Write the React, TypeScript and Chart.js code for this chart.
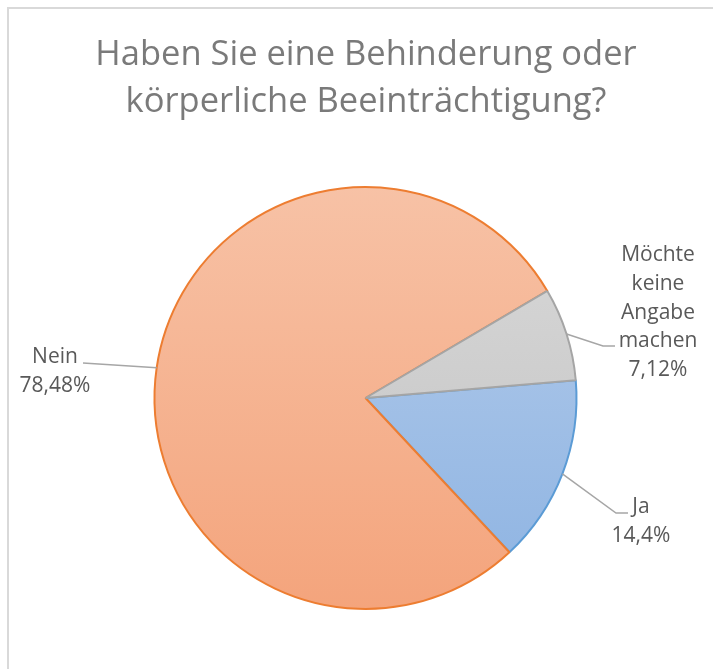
import React, { useEffect, useRef } from "react";
import { Chart, registerables } from "chart.js";

Chart.register(...registerables);

const titleLines = ["Haben Sie eine Behinderung oder", "körperliche Beeinträchtigung?"];
const categories = ["Ja", "Nein", "Möchte keine Angabe machen"];
const percentages = [14.4, 78.48, 7.12];
const valueLabels = ["14,4%", "78,48%", "7,12%"];
const labelLines = [["Ja"], ["Nein"], ["Möchte", "keine", "Angabe", "machen"]];

const gradTop = ["#B6CDEB", "#F7C2A6", "#DADADA"];
const gradBottom = ["#8DB3E2", "#F4A47C", "#C0C0C0"];
const borderColors = ["#5B9BD5", "#ED7D31", "#A5A5A5"];

// label layout (pixel placement of the data-label blocks)
const labelLayout = [
  { cx: 641, y0: 507, lh: 29, elbow: [616, 513], end: [628, 513] },
  { cx: 55, y0: 357, lh: 29, elbow: [83, 363], end: [83, 363] },
  { cx: 658, y0: 255, lh: 28.8, elbow: [603, 346], end: [615, 346] },
];

const FONT = "'Open Sans', sans-serif";

const decorPlugin = {
  id: "decor",
  beforeDraw(chart: any) {
    const ctx = chart.ctx;
    ctx.save();
    ctx.fillStyle = "#ffffff";
    ctx.fillRect(0, 0, chart.width, chart.height);
    ctx.strokeStyle = "#D9D9D9";
    ctx.lineWidth = 2;
    ctx.beginPath();
    ctx.moveTo(8, chart.height);
    ctx.lineTo(8, 8);
    ctx.lineTo(chart.width, 8);
    ctx.stroke();
    // title
    ctx.fillStyle = "#7A7A7A";
    ctx.textAlign = "center";
    ctx.textBaseline = "alphabetic";
    ctx.font = `34.5px ${FONT}`;
    ctx.fillText(titleLines[0], 366, 65);
    ctx.fillText(titleLines[1], 366, 112);
    ctx.restore();
  },
  afterDraw(chart: any) {
    const ctx = chart.ctx;
    const meta = chart.getDatasetMeta(0);
    ctx.save();
    meta.data.forEach((arc: any, i: number) => {
      const p = arc.getProps(["x", "y", "startAngle", "endAngle", "outerRadius"], true);
      const mid = (p.startAngle + p.endAngle) / 2;
      const sx = p.x + Math.cos(mid) * p.outerRadius;
      const sy = p.y + Math.sin(mid) * p.outerRadius;
      const L = labelLayout[i];
      ctx.strokeStyle = "#A6A6A6";
      ctx.lineWidth = 1.5;
      ctx.beginPath();
      ctx.moveTo(sx, sy);
      ctx.lineTo(L.elbow[0], L.elbow[1]);
      ctx.lineTo(L.end[0], L.end[1]);
      ctx.stroke();
      const lines = [...labelLines[i], valueLabels[i]];
      ctx.fillStyle = "#595959";
      ctx.textAlign = "center";
      ctx.textBaseline = "middle";
      ctx.font = `21px ${FONT}`;
      lines.forEach((t, k) => ctx.fillText(t, L.cx, L.y0 + k * L.lh));
    });
    ctx.restore();
  },
};

function makeGrad(ctx: any, chart: any, i: number) {
  const area = chart.chartArea;
  if (!area) return gradBottom[i];
  const g = ctx.createLinearGradient(0, area.top, 0, area.bottom);
  g.addColorStop(0, gradTop[i]);
  g.addColorStop(1, gradBottom[i]);
  return g;
}

export default function App() {
  const ref = useRef<HTMLCanvasElement>(null);
  useEffect(() => {
    if (!ref.current) return;
    const chart = new Chart(ref.current, {
      type: "pie",
      data: {
        labels: categories,
        datasets: [
          {
            data: percentages,
            backgroundColor: (c: any) => makeGrad(c.chart.ctx, c.chart, c.dataIndex),
            borderColor: borderColors,
            borderWidth: 2,
          },
        ],
      },
      options: {
        responsive: false,
        animation: false,
        rotation: 85.15,
        layout: { padding: { left: 153, right: 135, top: 186, bottom: 59 } },
        plugins: {
          legend: { display: false },
          title: { display: false },
          tooltip: { enabled: false },
        },
      },
      plugins: [decorPlugin],
    });
    return () => chart.destroy();
  }, []);
  return (
    <div style={{ position: "fixed", left: 0, top: 0, width: 713, height: 669 }}>
      <canvas ref={ref} width={713} height={669} style={{ width: 713, height: 669 }} />
    </div>
  );
}
